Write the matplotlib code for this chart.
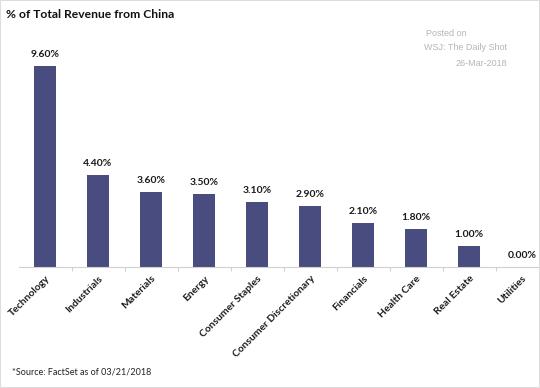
import matplotlib.pyplot as plt
from matplotlib.patches import Rectangle

sectors = ['Technology', 'Industrials', 'Materials', 'Energy', 'Consumer Staples',
           'Consumer Discretionary', 'Financials', 'Health Care', 'Real Estate', 'Utilities']
pct_china = [9.60, 4.40, 3.60, 3.50, 3.10, 2.90, 2.10, 1.80, 1.00, 0.00]


def main():
    plt.rcParams['font.family'] = ['Lato', 'DejaVu Sans']

    fig = plt.figure(figsize=(5.4, 3.88), dpi=100)
    # axes placed so the baseline sits at y=267px and categories are 53px apart
    ax = fig.add_axes([18.5 / 540, 121 / 388, 521.5 / 540, 230 / 388])

    x = list(range(len(sectors)))
    ax.bar(x, pct_china, width=0.4, color='#484c7e')

    for xi, v in zip(x, pct_china):
        ax.annotate('%.2f%%' % v, (xi, v), xytext=(0, 5), textcoords='offset points',
                    ha='center', va='bottom', fontsize=7.5, fontweight='bold', color='#1a1a1a')

    ax.set_xlim(-0.5, -0.5 + 521.5 / 53)
    ax.set_ylim(0, 230 / 20.94)

    for s in ['top', 'right', 'left']:
        ax.spines[s].set_visible(False)
    ax.spines['bottom'].set_color('#d0d0d0')
    ax.spines['bottom'].set_linewidth(0.8)
    ax.set_yticks([])

    ax.set_xticks(x)
    ax.set_xticklabels(sectors, rotation=45, ha='right', rotation_mode='anchor',
                       fontsize=7.4, fontweight='bold', color='#1a1a1a')
    ax.tick_params(axis='x', which='major', length=0, pad=5)
    ax.set_xticks([i + 0.5 for i in x[:-1]], minor=True)
    ax.tick_params(axis='x', which='minor', length=3, color='#d0d0d0', width=0.8)

    fig.text(6 / 540, 1 - 14 / 388, '% of Total Revenue from China', fontsize=8.7,
             fontweight='bold', color='#111111', va='center')
    fig.text(12 / 540, 1 - 372 / 388, '*Source: FactSet as of 03/21/2018', fontsize=6.5,
             color='#222222', va='center')

    wm = dict(fontsize=6.5, color='#b5b5b5', va='center', family='Liberation Sans')
    fig.text(426 / 540, 1 - 34 / 388, 'Posted on', **wm)
    fig.text(424 / 540, 1 - 48 / 388, 'WSJ: The Daily Shot', **wm)
    fig.text(507 / 540, 1 - 64 / 388, '26-Mar-2018', ha='right', **wm)

    fig.patches.append(Rectangle((0, 0), 1, 1, transform=fig.transFigure, fill=False,
                                 edgecolor='#dddddd', linewidth=1.5))

    fig.savefig('out.png', dpi=100)


if __name__ == "__main__":
    main()
